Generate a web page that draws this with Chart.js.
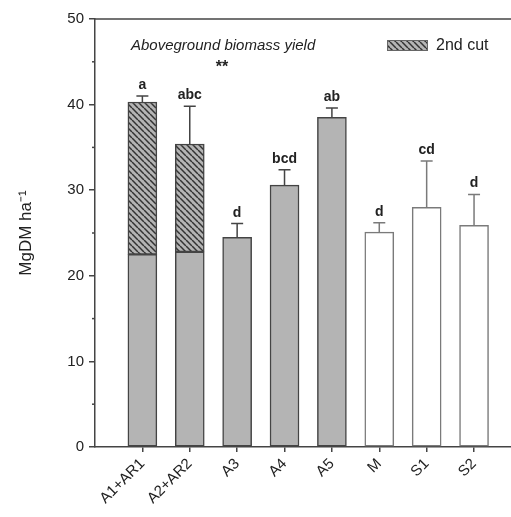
<!DOCTYPE html>
<html>
<head>
<meta charset="utf-8">
<script src="https://cdn.jsdelivr.net/npm/chart.js@4"></script>
<style>
  html, body { margin: 0; padding: 0; background: #fff; }
</style>
</head>
<body>
<canvas id="chart" width="511" height="517"></canvas>
<script>
// data
const categories = ['A1+AR1', 'A2+AR2', 'A3', 'A4', 'A5', 'M', 'S1', 'S2'];
const firstCut = [22.5, 22.8, 24.5, 30.6, 38.5, 25.1, 28.0, 25.9];
const secondCut = [17.8, 12.6, null, null, null, null, null, null];
const errors = [0.7, 4.4, 1.6, 1.8, 1.1, 1.1, 5.4, 3.6];
const letters = ['a', 'abc', 'd', 'bcd', 'ab', 'd', 'cd', 'd'];
const yMajor = [0, 10, 20, 30, 40, 50];
const yMinor = [5, 15, 25, 35, 45];

const GRAY = '#b4b4b4';
const DARK = '#444';
const LIGHT = '#7a7a7a';

// hatched fill for the 2nd cut
function makeHatch() {
    const s = 6;
    const c = document.createElement('canvas');
    c.width = s; c.height = s;
    const g = c.getContext('2d');
    g.fillStyle = GRAY;
    g.fillRect(0, 0, s, s);
    g.strokeStyle = '#333';
    g.lineWidth = 1.5;
    for (let k = -1; k <= 1; k++) {
        g.beginPath();
        g.moveTo(k * s, 0);
        g.lineTo(k * s + s, s);
        g.stroke();
    }
    return g.createPattern(c, 'repeat');
}
const hatch = makeHatch();

const isWhite = (i) => i >= 5;

const extras = {
    id: 'extras',
    afterDatasetsDraw(chart) {
        const ctx = chart.ctx;
        const xs = chart.scales.x, ys = chart.scales.y;
        const area = chart.chartArea;
        ctx.save();

        // top frame line
        ctx.strokeStyle = DARK;
        ctx.lineWidth = 1.5;
        ctx.beginPath();
        ctx.moveTo(area.left, area.top);
        ctx.lineTo(area.right, area.top);
        ctx.stroke();

        // minor ticks on y
        yMinor.forEach(v => {
            const y = ys.getPixelForValue(v);
            ctx.beginPath();
            ctx.moveTo(area.left - 3, y);
            ctx.lineTo(area.left, y);
            ctx.stroke();
        });

        // error bars + letters
        categories.forEach((c, i) => {
            const total = firstCut[i] + (secondCut[i] || 0);
            const x = xs.getPixelForValue(i + 1);
            const y0 = ys.getPixelForValue(total);
            const y1 = ys.getPixelForValue(total + errors[i]);
            ctx.strokeStyle = isWhite(i) ? LIGHT : DARK;
            ctx.lineWidth = 1.5;
            ctx.beginPath();
            ctx.moveTo(x, y0);
            ctx.lineTo(x, y1);
            ctx.moveTo(x - 6, y1);
            ctx.lineTo(x + 6, y1);
            ctx.stroke();

            ctx.fillStyle = '#222';
            ctx.font = 'bold 14px "Liberation Sans", Arial';
            ctx.textAlign = 'center';
            ctx.textBaseline = 'alphabetic';
            ctx.fillText(letters[i], x, y1 - 7);
        });

        // panel title
        ctx.fillStyle = '#222';
        ctx.font = 'italic 15px "Liberation Sans", Arial';
        ctx.textAlign = 'left';
        ctx.textBaseline = 'middle';
        ctx.fillText('Aboveground biomass yield', area.left + 36, area.top + 27);
        ctx.font = 'bold 16px "Liberation Sans", Arial';
        ctx.textAlign = 'center';
        ctx.fillText('**', area.left + 127, area.top + 49);

        // legend for 2nd cut
        ctx.fillStyle = hatch;
        ctx.fillRect(387, 40, 41, 11);
        ctx.strokeStyle = '#666';
        ctx.lineWidth = 1;
        ctx.strokeRect(387.5, 40.5, 40, 10);
        ctx.fillStyle = '#222';
        ctx.font = '16px "Liberation Sans", Arial';
        ctx.textAlign = 'left';
        ctx.fillText(chart.data.datasets[1].label, 436, 46);

        ctx.restore();
    }
};

new Chart(document.getElementById('chart'), {
    type: 'bar',
    data: {
        datasets: [{
            label: '1st cut',
            data: firstCut.map((v, i) => ({ x: i + 1, y: v })),
            backgroundColor: categories.map((c, i) => isWhite(i) ? '#fff' : GRAY),
            borderColor: categories.map((c, i) => isWhite(i) ? LIGHT : DARK),
            borderWidth: 1.5,
            borderSkipped: false,
            barThickness: 29
        }, {
            label: '2nd cut',
            data: secondCut.map((v, i) => ({ x: i + 1, y: v })),
            backgroundColor: hatch,
            borderColor: DARK,
            borderWidth: 1.5,
            borderSkipped: false,
            barThickness: 29
        }]
    },
    options: {
        responsive: false,
        animation: false,
        layout: { padding: { top: 19, left: 0, right: 0, bottom: 0 } },
        plugins: {
            legend: { display: false },
            tooltip: { enabled: false }
        },
        scales: {
            x: {
                type: 'linear',
                stacked: true,
                offset: false,
                min: 0,
                max: 8.78,
                afterBuildTicks: (s) => { s.ticks = categories.map((c, i) => ({ value: i + 1 })); },
                afterFit: (s) => { s.height = 70; },
                grid: { offset: false, drawOnChartArea: false, tickLength: 5, color: DARK, lineWidth: 1.5 },
                border: { color: DARK, width: 1.5 },
                ticks: {
                    autoSkip: false,
                    minRotation: 45,
                    maxRotation: 45,
                    padding: 3,
                    color: '#222',
                    font: { family: '"Liberation Sans", Arial', size: 15 },
                    callback: (v) => categories[v - 1] || ''
                }
            },
            y: {
                stacked: true,
                min: 0,
                max: 50,
                afterBuildTicks: (s) => { s.ticks = yMajor.map(v => ({ value: v })); },
                afterFit: (s) => { s.width = 95; },
                grid: { drawOnChartArea: false, tickLength: 6, color: DARK, lineWidth: 1.5 },
                border: { color: DARK, width: 1.5 },
                ticks: {
                    padding: 5,
                    color: '#222',
                    font: { family: '"Liberation Sans", Arial', size: 15 }
                },
                title: {
                    display: true,
                    text: 'MgDM ha⁻¹',
                    color: '#222',
                    font: { family: '"Liberation Sans", Arial', size: 17 },
                    padding: { top: 16, bottom: 0 }
                }
            }
        }
    },
    plugins: [extras]
});
</script>
</body>
</html>
